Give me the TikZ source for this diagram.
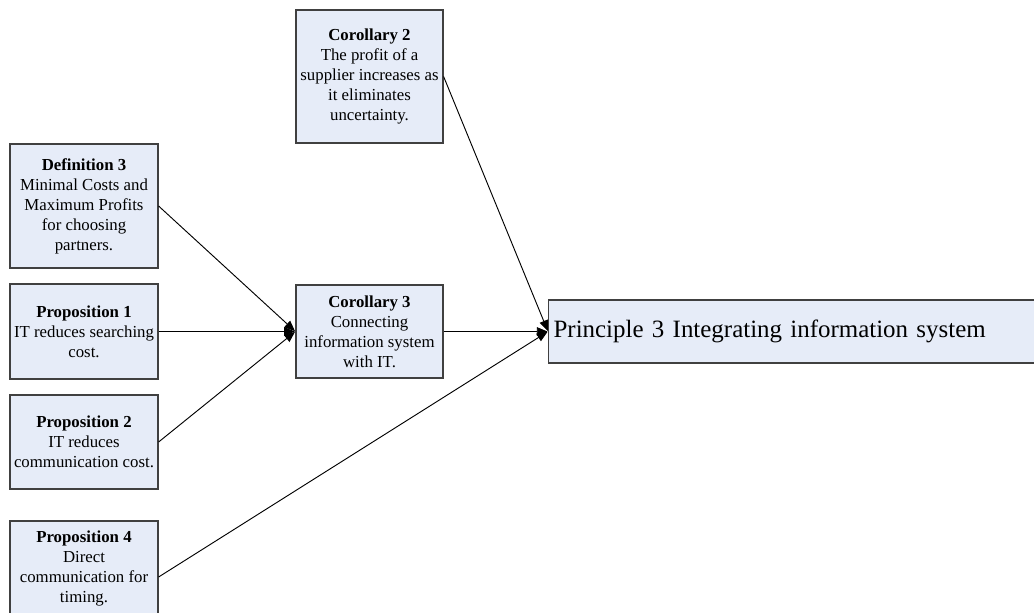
\documentclass[tikz,border=0pt]{standalone}
\usepackage{fontspec}
\setmainfont{Liberation Serif}
\usetikzlibrary{arrows.meta}
\definecolor{boxfill}{RGB}{230,236,248}
\definecolor{boxline}{RGB}{64,64,64}
\tikzset{
  card/.style={draw=boxline, line width=0.9pt, fill=boxfill, inner sep=0pt,
    align=center, font=\fontsize{12.6pt}{15pt}\selectfont},
  link/.style={draw=black, line width=0.7pt,
    -{Triangle[length=8pt,width=6.5pt]}, shorten >=0.4pt}
}
\begin{document}
\begin{tikzpicture}[x=0.75pt,y=-0.75pt]
  \clip (0,0) rectangle (1034,612);
  \fill[white] (0,0) rectangle (1034,612);

  % source statements
  \node[card, minimum width=110.25pt, minimum height=99.75pt] (cor2) at (369.5,76.5)
    {\textbf{Corollary 2}\\The profit of a\\supplier increases as\\it eliminates\\uncertainty.};
  \node[card, minimum width=111pt, minimum height=93pt] (def3) at (84,206)
    {\textbf{Definition 3}\\Minimal Costs and\\Maximum Profits\\for choosing\\partners.};
  \node[card, minimum width=111pt, minimum height=71.25pt] (p1) at (84,331.5)
    {\textbf{Proposition 1}\\IT reduces searching\\cost.};
  \node[card, minimum width=111pt, minimum height=70.5pt] (p2) at (84,442)
    {\textbf{Proposition 2}\\IT reduces\\communication cost.};
  \node[card, minimum width=111pt, minimum height=70.5pt] (p4) at (84,568)
    {\textbf{Proposition 4}\\Direct\\communication for\\timing.};

  % intermediate result
  \node[card, minimum width=110.25pt, minimum height=69.75pt] (cor3) at (369.5,331.5)
    {\textbf{Corollary 3}\\Connecting\\information system\\with IT.};

  % principle
  \node[card, anchor=west, minimum width=369pt, minimum height=47.25pt,
        text width=361.5pt, align=left, inner xsep=3.75pt,
        font=\fontsize{18.7pt}{22pt}\selectfont] (prin) at (548,331.5)
    {Principle 3 Integrating information system};

  % connectors
  \draw[link] (def3.east) -- (cor3.west);
  \draw[link] (p1.east) -- (cor3.west);
  \draw[link] (p2.east) -- (cor3.west);
  \draw[link] (cor3.east) -- (prin.west);
  \draw[link] (cor2.east) -- (prin.west);
  \draw[link] ([yshift=-6.75pt]p4.east) -- (prin.west);
\end{tikzpicture}
\end{document}
